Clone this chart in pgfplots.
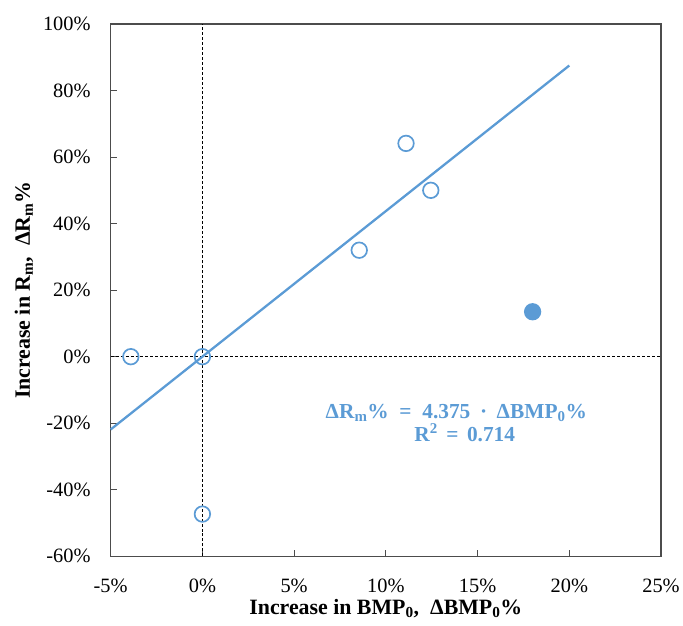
\documentclass[border=0pt]{standalone}
\usepackage{pgfplots}
\pgfplotsset{compat=1.18}
\usepackage{fontspec}
\setmainfont{Liberation Serif}
\definecolor{xlblue}{RGB}{91,155,213}
\begin{document}
\begin{tikzpicture}
\begin{axis}[
  scale only axis,
  width=552bp, height=534bp,
  xmin=-5, xmax=25, ymin=-60, ymax=100,
  xtick={-5,0,5,10,15,20,25},
  xticklabels={-5\%,0\%,5\%,10\%,15\%,20\%,25\%},
  ytick={-60,-40,-20,0,20,40,60,80,100},
  yticklabels={-60\%,-40\%,-20\%,0\%,20\%,40\%,60\%,80\%,100\%},
  tick pos=left,
  tick align=inside,
  major tick length=6bp,
  axis line style={line width=1.2bp, black!70},
  tick style={line width=1bp, black!70},
  ticklabel style={font=\fontsize{20.5}{24}\selectfont},
  xticklabel style={anchor=base, yshift=-36bp},
  yticklabel style={anchor=east, inner sep=0pt, xshift=-20bp},
  xlabel={\textbf{Increase in BMP\textsubscript{0},\ \ ΔBMP\textsubscript{0}\%}},
  ylabel={\textbf{Increase in R\textsubscript{m},\ \ ΔR\textsubscript{m}\%}},
  label style={font=\fontsize{22}{26}\selectfont},
  xlabel style={at={(rel axis cs:0.5,0)}, anchor=base, yshift=-58bp},
  ylabel style={at={(rel axis cs:0,0.5)}, anchor=center, yshift=87bp},
  clip=false,
]
\addplot[black, densely dashed, line width=0.8bp] coordinates {(0,-60) (0,100)};
\addplot[black, densely dashed, line width=0.8bp] coordinates {(-5,0) (25,0)};
\addplot[xlblue, line width=2.3bp] coordinates {(-5,-21.875) (20,87.5)};
\addplot[only marks, mark=o, mark size=7.8bp, xlblue, mark options={line width=1.7bp, fill=white}] coordinates {
  (-3.9,0) (0,0) (0,-47.3) (8.55,32.0) (11.1,64.1) (12.45,50.0)
};
\addplot[only marks, mark=*, mark size=7.8bp, xlblue, mark options={line width=1.7bp, fill=xlblue}] coordinates {
  (18.0,13.5)
};
\node[xlblue, anchor=base, inner sep=0pt, font=\fontsize{21.5}{24}\selectfont\bfseries] at (axis cs:13.84,-18.56)
  {ΔR\textsubscript{m}\%\hspace{0.5em}=\hspace{0.5em}4.375\hspace{0.45em}·\hspace{0.45em}ΔBMP\textsubscript{0}\%};
\node[xlblue, anchor=base, inner sep=0pt, font=\fontsize{21.5}{24}\selectfont\bfseries] at (axis cs:14.3,-25.45)
  {R\textsuperscript{2}\hspace{0.4em}=\hspace{0.4em}0.714};
\end{axis}
\path (current axis.south west) ++(-111bp,-69bp);
\path (current axis.north east) ++(20bp,24bp);
\end{tikzpicture}
\end{document}
